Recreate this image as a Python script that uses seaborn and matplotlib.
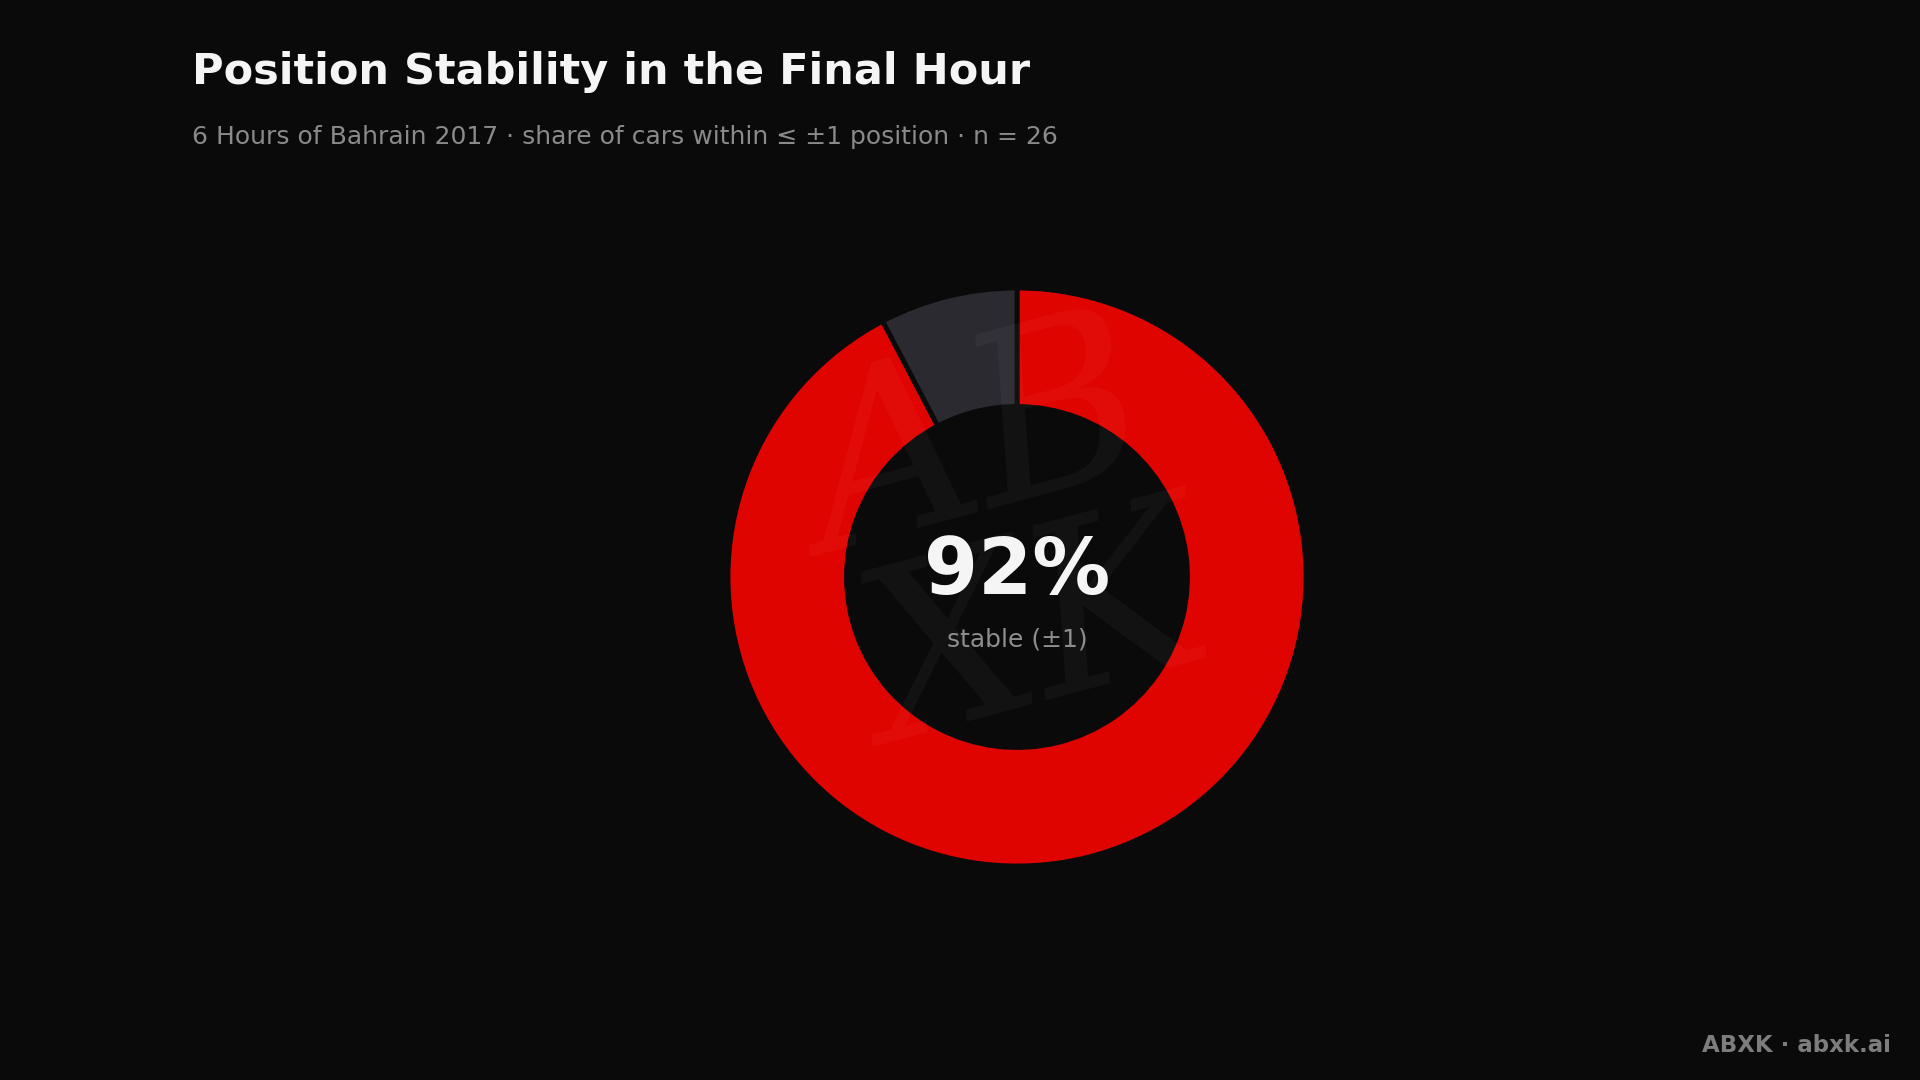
import matplotlib
matplotlib.use("Agg")
import matplotlib.pyplot as plt
import seaborn as sns

# ── Data ──────────────────────────────────────────────────────────────────────
categories = ["Stable (±1)", "Moved > 1"]
car_counts = [24, 2]          # n = 26 cars
slice_colors = ["#e00400", "#2b2a30"]

TITLE    = "Position Stability in the Final Hour"
SUBTITLE = "6 Hours of Bahrain 2017 · share of cars within ≤ ±1 position · n = 26"
FOOTER   = "ABXK · abxk.ai"

BG = "#0a0a0a"

sns.set_theme(style="dark", rc={
    "figure.facecolor": BG, "axes.facecolor": BG,
    "savefig.facecolor": BG,
})
plt.rcParams["font.family"] = ["DejaVu Sans"]

fig = plt.figure(figsize=(19.2, 10.8), dpi=100)

# donut axes: centre ~(1017, 577) px, outer radius ~289 px
cx, cy, r = 1017, 577, 289
ax = fig.add_axes([(cx - r) / 1920, (1080 - cy - r) / 1080, 2 * r / 1920, 2 * r / 1080])
ax.set_facecolor(BG)

wedges, _ = ax.pie(car_counts, colors=slice_colors, startangle=90, counterclock=False,
                   radius=1.0,
                   wedgeprops=dict(width=0.41, edgecolor=BG, linewidth=3.5))
ax.set_xlim(-1, 1)
ax.set_ylim(-1, 1)
ax.set_aspect("equal")
ax.axis("off")

pct = round(100 * car_counts[0] / sum(car_counts))

# faint watermark
fig.text((cx - 40) / 1920, 1 - 450 / 1080, "AB", ha="center", va="center", fontsize=170,
         family="DejaVu Serif", style="italic", color="white", alpha=0.04, rotation=15)
fig.text((cx + 20) / 1920, 1 - 640 / 1080, "XK", ha="center", va="center", fontsize=170,
         family="DejaVu Serif", style="italic", color="white", alpha=0.04, rotation=15)

# centre labels
fig.text(cx / 1920, 1 - 572 / 1080, f"{pct}%", ha="center", va="center",
         fontsize=56, fontweight="bold", color="#f5f5f5")
fig.text(cx / 1920, 1 - 639 / 1080, "stable (±1)", ha="center", va="center",
         fontsize=18, color="#8e8e8e")

# titles
fig.text(192 / 1920, 1 - 72 / 1080, TITLE, ha="left", va="center",
         fontsize=31, fontweight="bold", color="#f5f5f5")
fig.text(192 / 1920, 1 - 137 / 1080, SUBTITLE, ha="left", va="center",
         fontsize=18, color="#8a8a8a")

# footer
fig.text(1891 / 1920, 1 - 1045 / 1080, FOOTER, ha="right", va="center",
         fontsize=16.5, fontweight="bold", color="#7d7d7d")

fig.savefig("out.png", dpi=100, facecolor=BG)
